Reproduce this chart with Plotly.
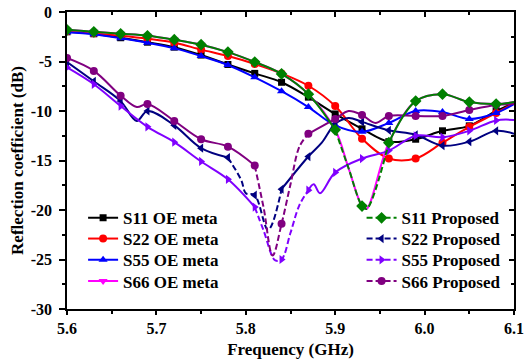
import plotly.graph_objects as go
import numpy as np

# ---------------- data ----------------
MARK_F = [5.60, 5.63, 5.66, 5.69, 5.72, 5.75, 5.78, 5.81, 5.84, 5.87,
          5.90, 5.93, 5.96, 5.99, 6.02, 6.05, 6.08]

# OE meta
F_S11_OE = [5.60, 5.63, 5.66, 5.69, 5.72, 5.75, 5.78, 5.81, 5.84, 5.87, 5.90, 5.93, 5.96, 5.99, 6.02, 6.05, 6.08, 6.10]
DB_S11_OE = [-2.0, -2.2, -2.6, -3.05, -3.55, -4.35, -5.3, -6.2, -7.1, -8.6, -10.3, -11.8, -13.1, -12.85, -12.0, -11.5, -10.0, -9.2]

F_S22_OE = [5.60, 5.63, 5.66, 5.69, 5.72, 5.75, 5.78, 5.81, 5.84, 5.87, 5.90, 5.93, 5.96, 5.99, 6.02, 6.05, 6.08, 6.10]
DB_S22_OE = [-1.95, -2.15, -2.4, -2.7, -3.1, -3.8, -4.45, -5.25, -6.2, -7.45, -9.5, -12.8, -14.8, -14.8, -13.2, -11.6, -10.2, -9.2]

F_S55_OE = [5.60, 5.63, 5.66, 5.69, 5.72, 5.75, 5.78, 5.81, 5.84, 5.87, 5.90, 5.93, 5.96, 5.99, 6.02, 6.05, 6.08, 6.10]
DB_S55_OE = [-2.05, -2.25, -2.65, -3.1, -3.65, -4.45, -5.35, -6.6, -8.0, -9.6, -11.45, -12.1, -11.2, -10.0, -10.1, -10.8, -10.2, -9.3]

# S66 OE meta coincides with S11 Proposed
F_S11_P = [5.60, 5.63, 5.66, 5.69, 5.72, 5.75, 5.78, 5.81, 5.84, 5.87, 5.90, 5.915, 5.93, 5.935, 5.96, 5.99, 6.02, 6.05, 6.08, 6.10]
DB_S11_P = [-1.8, -2.0, -2.2, -2.4, -2.8, -3.3, -4.05, -5.05, -6.25, -8.3, -11.9, -15.8, -19.6, -19.9, -13.2, -9.0, -8.3, -9.1, -9.3, -9.1]
F_S66_OE = F_S11_P
DB_S66_OE = DB_S11_P

F_S22_P = [5.60, 5.63, 5.66, 5.678, 5.69, 5.72, 5.75, 5.78, 5.795, 5.80, 5.81, 5.825, 5.84, 5.87, 5.885, 5.90, 5.915, 5.93, 5.96, 5.99, 6.02, 6.05, 6.08, 6.10]
DB_S22_P = [-5.05, -7.0, -9.0, -11.0, -10.0, -11.45, -13.75, -14.7, -17.0, -18.3, -18.5, -22.0, -17.9, -14.6, -13.2, -11.3, -10.7, -11.1, -11.95, -12.4, -13.5, -13.1, -12.0, -12.3]

F_S55_P = [5.60, 5.63, 5.66, 5.69, 5.72, 5.75, 5.78, 5.81, 5.82, 5.833, 5.84, 5.85, 5.86, 5.87, 5.876, 5.883, 5.90, 5.93, 5.96, 5.99, 6.02, 6.05, 6.08, 6.10]
DB_S55_P = [-5.6, -7.3, -9.5, -11.6, -13.15, -15.1, -16.9, -19.7, -22.1, -25.1, -25.0, -22.3, -19.5, -18.0, -17.4, -18.3, -16.2, -14.8, -14.0, -12.5, -12.65, -12.0, -10.95, -10.9]

F_S66_P = [5.60, 5.63, 5.66, 5.678, 5.69, 5.72, 5.75, 5.78, 5.81, 5.82, 5.83, 5.84, 5.85, 5.86, 5.87, 5.90, 5.915, 5.93, 5.945, 5.96, 5.99, 6.02, 6.05, 6.08, 6.10]
DB_S66_P = [-4.65, -5.95, -8.45, -9.6, -9.3, -11.0, -12.85, -13.6, -15.5, -19.8, -24.6, -21.4, -17.4, -13.6, -12.3, -10.8, -10.0, -10.4, -11.2, -10.5, -10.5, -10.5, -9.9, -9.4, -9.3]

X_TICKS = [5.6, 5.7, 5.8, 5.9, 6.0, 6.1]
X_TICKTEXT = ["5.6", "5.7", "5.8", "5.9", "6.0", "6.1"]
Y_TICKS = [0, -5, -10, -15, -20, -25, -30]
Y_TICKTEXT = ["0", "-5", "-10", "-15", "-20", "-25", "-30"]

SERIES = [
    # name, F, V, color, symbol, dashed range, legend column
    ("S11 OE meta", F_S11_OE, DB_S11_OE, "#000000", "square", None, 0),
    ("S22 OE meta", F_S22_OE, DB_S22_OE, "#FF0000", "circle", None, 0),
    ("S55 OE meta", F_S55_OE, DB_S55_OE, "#0000FF", "triangle-up", None, 0),
    ("S66 OE meta", F_S66_OE, DB_S66_OE, "#FF00FF", "triangle-down", None, 0),
    ("S22 Proposed", F_S22_P, DB_S22_P, "#000080", "triangle-left", (5.78, 5.84), 1),
    ("S55 Proposed", F_S55_P, DB_S55_P, "#8000FF", "triangle-right", (5.81, 5.87), 1),
    ("S66 Proposed", F_S66_P, DB_S66_P, "#800080", "circle", (5.81, 5.87), 1),
    ("S11 Proposed", F_S11_P, DB_S11_P, "#008000", "diamond", (5.90, 5.96), 1),
]
LEGEND_ORDER = ["S11 OE meta", "S22 OE meta", "S55 OE meta", "S66 OE meta",
                "S11 Proposed", "S22 Proposed", "S55 Proposed", "S66 Proposed"]

DASH = "6px,3px"
LW = 2
MSIZE = {"square": 7, "circle": 8, "triangle-up": 8, "triangle-down": 8,
         "triangle-left": 8, "triangle-right": 8, "diamond": 9}
FONT = "Liberation Serif"

fig = go.Figure()


def segs(F, V, dr):
    if dr is None:
        return [(F, V, "solid")]
    i0 = int(np.argmin(np.abs(np.array(F) - dr[0])))
    i1 = int(np.argmin(np.abs(np.array(F) - dr[1])))
    return [(F[:i0 + 1], V[:i0 + 1], "solid"),
            (F[i0:i1 + 1], V[i0:i1 + 1], DASH),
            (F[i1:], V[i1:], "solid")]


for name, F, V, col, sym, dr, lg in SERIES:
    for fx, vy, ds in segs(F, V, dr):
        fig.add_trace(go.Scatter(x=fx, y=vy, mode="lines", showlegend=False,
                                 line=dict(color=col, width=LW, dash=ds, shape="spline", smoothing=1),
                                 hoverinfo="skip"))
    mf = [f for f in F if any(abs(f - m) < 1e-6 for m in MARK_F)]
    mv = [v for f, v in zip(F, V) if any(abs(f - m) < 1e-6 for m in MARK_F)]
    fig.add_trace(go.Scatter(x=mf, y=mv, mode="markers", showlegend=False,
                             marker=dict(symbol=sym, color=col, size=MSIZE[sym], line=dict(width=0))))

# one legend box per entry so rows can be spaced like the original
ROW_Y = [0.3054, 0.2357, 0.164, 0.0926]
COL_X = [0.036, 0.659]
legend_layout = {}
info = {s[0]: s for s in SERIES}
for k, name in enumerate(LEGEND_ORDER):
    _, F, V, col, sym, dr, c = info[name]
    lname = "legend" if k == 0 else "legend%d" % (k + 1)
    fig.add_trace(go.Scatter(x=[None], y=[None], mode="lines+markers", name=name, legend=lname,
                             line=dict(color=col, width=LW, dash=DASH if c == 1 else "solid"),
                             marker=dict(symbol=sym, color=col, size=MSIZE[sym], line=dict(width=0))))
    legend_layout[lname] = dict(x=COL_X[c], y=ROW_Y[k % 4], xanchor="left", yanchor="middle",
                                bgcolor="rgba(0,0,0,0)", borderwidth=0,
                                font=dict(family=FONT, size=17, color="black", weight="bold"),
                                itemwidth=30)

# overlay axes for inward ticks on top / right
fig.add_trace(go.Scatter(x=[None], y=[None], xaxis="x2", yaxis="y2", showlegend=False))

axis_font = dict(family=FONT, size=16, color="black", weight="bold")

fig.update_layout(
    width=525, height=363,
    margin=dict(l=67, r=11, t=12, b=54, autoexpand=False),
    paper_bgcolor="white", plot_bgcolor="white",
    font=dict(family=FONT, size=16, color="black", weight="bold"),
    xaxis=dict(range=[5.6, 6.1], tickvals=X_TICKS, ticktext=X_TICKTEXT, tickfont=axis_font,
               ticks="outside", ticklen=4, tickwidth=1.5, tickcolor="black", automargin=False,
               minor=dict(dtick=0.05, ticks="outside", ticklen=3, tickwidth=1.5, tickcolor="black"),
               showline=True, linecolor="black", linewidth=1.5, mirror=True,
               showgrid=False, zeroline=False,
               title=dict(text="Frequency (GHz)", standoff=7,
                          font=dict(family=FONT, size=17, weight="bold"))),
    yaxis=dict(range=[-30, 0], tickvals=Y_TICKS, ticktext=Y_TICKTEXT, tickfont=axis_font,
               ticks="outside", ticklen=6, tickwidth=1.5, tickcolor="black", automargin=False,
               minor=dict(dtick=2.5, ticks="outside", ticklen=3, tickwidth=1.5, tickcolor="black"),
               showline=True, linecolor="black", linewidth=1.5, mirror=True,
               showgrid=False, zeroline=False, ticklabelstandoff=4,
               title=dict(text="Reflection coefficient (dB)", standoff=3,
                          font=dict(family=FONT, size=17, weight="bold"))),
    xaxis2=dict(overlaying="x", side="top", range=[5.6, 6.1], tickvals=X_TICKS, showticklabels=False,
                ticks="inside", ticklen=5, tickwidth=1.5, tickcolor="black", automargin=False,
                minor=dict(dtick=0.05, ticks="inside", ticklen=3, tickwidth=1.5, tickcolor="black"),
                showline=False, showgrid=False, zeroline=False),
    yaxis2=dict(overlaying="y", side="right", range=[-30, 0], tickvals=Y_TICKS, showticklabels=False,
                ticks="inside", ticklen=5, tickwidth=1.5, tickcolor="black", automargin=False,
                minor=dict(dtick=2.5, ticks="inside", ticklen=3, tickwidth=1.5, tickcolor="black"),
                showline=False, showgrid=False, zeroline=False),
    showlegend=True,
    **legend_layout,
)

fig.write_html("out.html", config={"displayModeBar": False})

# remove the default 8px page margin so the figure fills the window exactly
with open("out.html", encoding="utf-8") as fh:
    html = fh.read()
html = html.replace("<body>", '<body style="margin:0;padding:0;overflow:hidden">', 1)
with open("out.html", "w", encoding="utf-8") as fh:
    fh.write(html)
